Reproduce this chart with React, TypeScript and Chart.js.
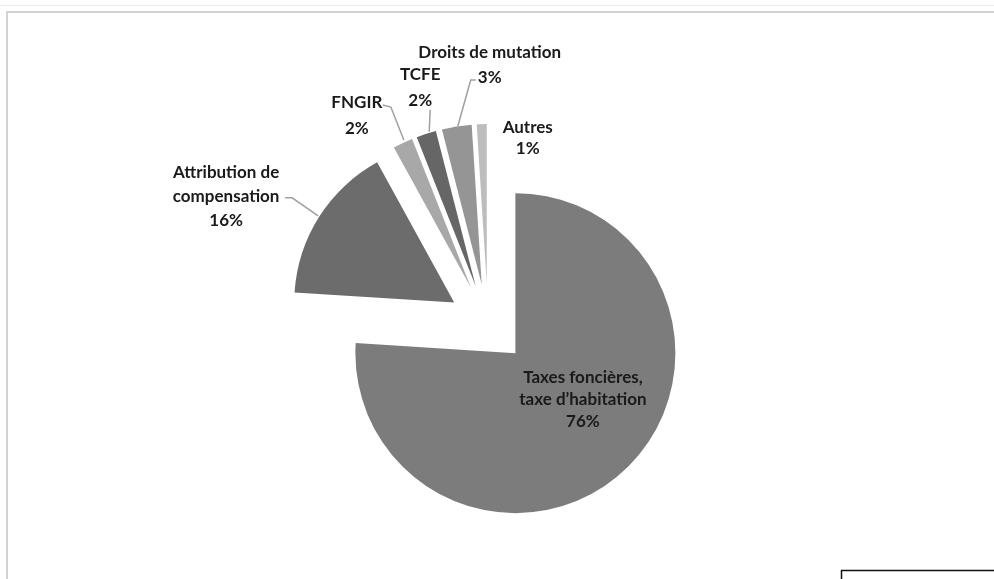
import React, { useEffect, useRef } from 'react';
import { Chart, registerables, ArcElement, PieController } from 'chart.js';

Chart.register(...registerables);

// ---- data ----
const categories = [
  "Taxes foncières, taxe d’habitation",
  'Attribution de compensation',
  'FNGIR',
  'TCFE',
  'Droits de mutation',
  'Autres',
];
const labelLines = [
  ['Taxes foncières,', 'taxe d’habitation'],
  ['Attribution de', 'compensation'],
  ['FNGIR'],
  ['TCFE'],
  ['Droits de mutation'],
  ['Autres'],
];
const shares = [76, 16, 2, 2, 3, 1];
const percentLabels = ['76%', '16%', '2%', '2%', '3%', '1%'];

// ---- styles ----
const sliceColors = ['#7c7c7c', '#6c6c6c', '#a8a8a8', '#666666', '#959595', '#bdbdbd'];
const EXPLODE = 40;
const RADIUS = 160;
// label placement relative to the slice's outer-mid point (after explosion)
const LABEL_LAYOUT = [
  { dx: -42, dy: -92, lh: 22, leader: [] as number[][] },
  { dx: -93, dy: -44, lh: 24, leader: [[-34, -19], [-27, -19], [-1, -1]] },
  { dx: -46, dy: -41, lh: 26, leader: [[-20, -38], [-12, -36], [1, -3]] },
  { dx: -6, dy: -59, lh: 26, leader: [[4, -24], [3, -2]] },
  { dx: 33, dy: -74, lh: 25, leader: [[19, -46.5], [14, -46.5], [1, 0]] },
  { dx: 46, dy: 3, lh: 21, leader: [] as number[][] },
];
const FONT = 'bold 17px Lato, "Open Sans", sans-serif';

class ExplodedArc extends ArcElement {
  static id = 'explodedArc';
  draw(ctx: CanvasRenderingContext2D) {
    const { x, y, startAngle, endAngle, outerRadius } = this as any;
    const o: any = (this as any).options;
    const mid = (startAngle + endAngle) / 2;
    const d = o.offset || 0;
    ctx.save();
    ctx.translate(Math.cos(mid) * d, Math.sin(mid) * d);
    ctx.beginPath();
    ctx.moveTo(x, y);
    ctx.arc(x, y, outerRadius, startAngle, endAngle);
    ctx.closePath();
    ctx.fillStyle = o.backgroundColor;
    ctx.fill();
    ctx.restore();
  }
}

class ExplodedPie extends PieController {
  static id = 'explodedPie';
  static defaults = { dataElementType: 'explodedArc' };
}

Chart.register(ExplodedArc as any, ExplodedPie as any);

const framePlugin = {
  id: 'frame',
  beforeDraw(chart: any) {
    const ctx = chart.ctx;
    ctx.save();
    ctx.fillStyle = '#ffffff';
    ctx.fillRect(0, 0, chart.width, chart.height);
    ctx.strokeStyle = '#f0f0f0';
    ctx.lineWidth = 1;
    ctx.beginPath();
    ctx.moveTo(0, 5.5);
    ctx.lineTo(chart.width, 5.5);
    ctx.stroke();
    ctx.strokeStyle = '#d2d2d2';
    ctx.lineWidth = 2;
    ctx.beginPath();
    ctx.moveTo(6, 12);
    ctx.lineTo(chart.width, 12);
    ctx.moveTo(7, 11);
    ctx.lineTo(7, chart.height);
    ctx.stroke();
    ctx.strokeStyle = '#111111';
    ctx.lineWidth = 1.5;
    ctx.strokeRect(841.5, 570.5, 300, 60);
    ctx.restore();
  },
};

const labelPlugin = {
  id: 'sliceLabels',
  afterDatasetsDraw(chart: any) {
    const ctx = chart.ctx;
    const meta = chart.getDatasetMeta(0);
    ctx.save();
    ctx.font = FONT;
    ctx.textAlign = 'center';
    ctx.textBaseline = 'middle';
    meta.data.forEach((arc: any, i: number) => {
      const mid = (arc.startAngle + arc.endAngle) / 2;
      const r = arc.outerRadius + (arc.options.offset || 0);
      const ax = arc.x + Math.cos(mid) * r;
      const ay = arc.y + Math.sin(mid) * r;
      const L = LABEL_LAYOUT[i];
      if (L.leader.length) {
        ctx.strokeStyle = '#a0a0a0';
        ctx.lineWidth = 1.5;
        ctx.beginPath();
        L.leader.forEach((p, k) => {
          if (k === 0) ctx.moveTo(ax + p[0], ay + p[1]);
          else ctx.lineTo(ax + p[0], ay + p[1]);
        });
        ctx.stroke();
      }
      const lines = [...labelLines[i], percentLabels[i]];
      ctx.fillStyle = '#1a1a1a';
      lines.forEach((t, k) => {
        ctx.fillText(t, ax + L.dx, ay + L.dy + k * L.lh);
      });
    });
    ctx.restore();
  },
};

export default function App() {
  const ref = useRef<HTMLCanvasElement>(null);
  useEffect(() => {
    if (!ref.current) return;
    const chart = new Chart(ref.current, {
      type: 'explodedPie' as any,
      data: {
        labels: categories,
        datasets: [
          {
            data: shares,
            backgroundColor: sliceColors,
            borderWidth: 0,
            offset: EXPLODE,
          } as any,
        ],
      },
      options: {
        responsive: false,
        animation: false,
        radius: RADIUS,
        layout: { padding: { left: 0, right: 18, top: 69, bottom: 0 } },
        plugins: { legend: { display: false }, tooltip: { enabled: false } },
        events: [],
      } as any,
      plugins: [framePlugin, labelPlugin],
    });
    return () => chart.destroy();
  }, []);
  return (
    <div style={{ position: 'absolute', left: 0, top: 0, width: 994, height: 579, background: '#fff' }}>
      <canvas ref={ref} width={994} height={579} />
    </div>
  );
}
